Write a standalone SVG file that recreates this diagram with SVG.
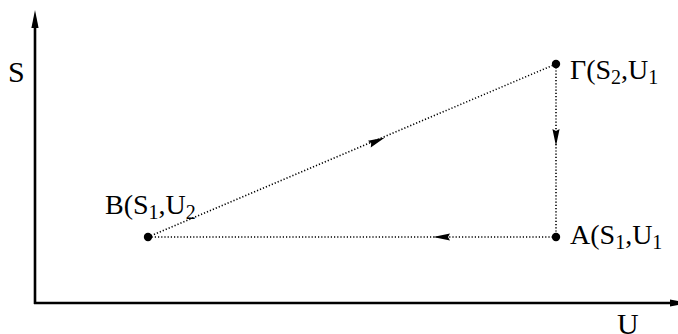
<svg xmlns="http://www.w3.org/2000/svg" width="678" height="334" viewBox="0 0 678 334">
<g id="axes" fill="#000">
<line x1="35" y1="304" x2="35" y2="27" stroke="#000" stroke-width="2.6"/>
<line x1="34" y1="303" x2="671" y2="303" stroke="#000" stroke-width="2.6"/>
<polygon points="35,10 31.4,28 38.6,28"/>
<polygon points="688,303 670,299.4 670,306.6"/>
<text x="8" y="82" font-size="30" font-family="Liberation Serif">S</text>
<text x="617" y="334" font-size="30" font-family="Liberation Serif">U</text>
</g>
<g id="connectors">
<g stroke="#000" stroke-width="1.6" stroke-dasharray="1.2 2" fill="none">
<line x1="148" y1="237" x2="556" y2="64"/>
<line x1="556" y1="64" x2="556" y2="237"/>
<line x1="556" y1="237" x2="148" y2="237"/>
</g>
<g fill="#000">
<polygon points="385,137.5 370.76,147.45 371.19,143.35 367.94,140.83"/>
<polygon points="556,146 552.4,129 556,131 559.6,129"/>
<polygon points="433,237 450,233.4 448,237 450,240.6"/>
</g>
</g>
<g id="node-gamma" fill="#000">
<circle cx="556" cy="64" r="4.2"/>
<text x="570" y="79" font-size="28" font-family="Liberation Serif">Γ(S<tspan font-size="20" dy="5">2</tspan><tspan dy="-5">,U</tspan><tspan font-size="20" dy="5">1</tspan></text>
</g>
<g id="node-a" fill="#000">
<circle cx="556" cy="237" r="4.2"/>
<text x="570" y="244" font-size="28" font-family="Liberation Serif">A(S<tspan font-size="20" dy="5">1</tspan><tspan dy="-5">,U</tspan><tspan font-size="20" dy="5">1</tspan></text>
</g>
<g id="node-b" fill="#000">
<circle cx="148" cy="237" r="4.2"/>
<text x="105" y="214" font-size="28" font-family="Liberation Serif">B(S<tspan font-size="20" dy="5">1</tspan><tspan dy="-5">,U</tspan><tspan font-size="20" dy="5">2</tspan></text>
</g>
</svg>
